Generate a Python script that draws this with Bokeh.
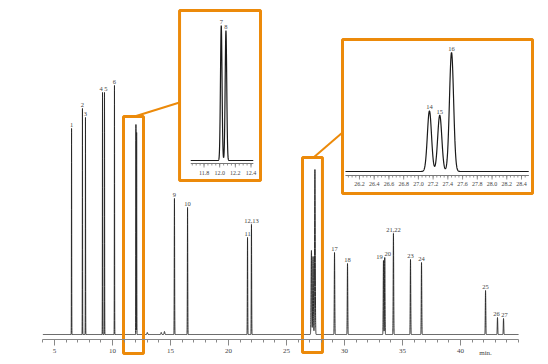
import numpy as np
from bokeh.plotting import figure
from bokeh.models import Range1d, LinearAxis, FixedTicker, ColumnDataSource, Label
from bokeh.core.properties import value
from bokeh.embed import file_html
from bokeh.resources import INLINE

# ---------------- data ----------------
peak_names = ["1", "2", "3", "4", "5", "6", "7", "8", "9", "10", "11", "12,13",
              "14", "15", "16", "17", "18", "19", "20", "21,22", "23", "24",
              "25", "26", "27"]
peak_times = [6.47, 7.41, 7.67, 9.14, 9.31, 10.17, 12.02, 12.08, 15.34, 16.47,
              21.64, 21.98, 27.15, 27.29, 27.45, 29.14, 30.26, 33.36, 33.47,
              34.22, 35.69, 36.64, 42.16, 43.19, 43.71]
peak_heights = [206, 226, 217, 242, 242, 249, 210, 202, 136, 127, 97, 110,
                84, 78, 165, 82, 71, 74, 77, 101, 75, 72, 44, 17, 16]
peak_widths = [0.01, 0.01, 0.01, 0.01, 0.01, 0.01, 0.01, 0.01, 0.015, 0.015,
               0.015, 0.015, 0.028, 0.028, 0.028, 0.02, 0.02, 0.02, 0.02,
               0.02, 0.02, 0.02, 0.02, 0.02, 0.02]
minor_times = [13.0, 14.2, 14.48]
minor_heights = [2, 2, 3]
minor_widths = [0.03, 0.03, 0.03]

main_ticks = [5, 10, 15, 20, 25, 30, 35, 40]
main_minor_ticks = list(range(4, 46))
inset1_ticks = [11.8, 12.0, 12.2, 12.4]
inset1_labels = ["11.8", "12.0", "12.2", "12.4"]
inset1_minor = [round(11.65 + 0.05 * i, 2) for i in range(16)]
inset2_ticks = [26.2, 26.4, 26.6, 26.8, 27.0, 27.2, 27.4, 27.6, 27.8, 28.0, 28.2, 28.4]
inset2_labels = ["26.2", "26.4", "26.6", "26.8", "27.0", "27.2", "27.4", "27.6",
                 "27.8", "28.0", "28.2", "28.4"]
inset2_minor = [round(26.05 + 0.05 * i, 2) for i in range(49)]

# ---------------- styles / layout ----------------
ORANGE = "#EC8A0A"
TXT = "#444444"
FONT = value("Liberation Serif")


def signal(t):
    t = np.asarray(t, dtype=float)
    s = np.zeros_like(t)
    for t0, h, w in zip(peak_times + minor_times, peak_heights + minor_heights,
                        peak_widths + minor_widths):
        s += h * np.exp(-((t - t0) ** 2) / (2 * w * w))
    return s


p = figure(width=540, height=356, output_backend="svg", toolbar_location=None,
           x_range=Range1d(1.034, 46.897), y_range=Range1d(-22, 326),
           x_axis_type=None, y_axis_type=None,
           min_border=0, min_border_left=8, min_border_right=0,
           min_border_top=8, min_border_bottom=0)
p.outline_line_color = None
p.background_fill_color = "white"

# main trace
tm = np.arange(4.0, 45.0, 0.002)
p.line(tm, signal(tm), line_color="#2a2a2a", line_width=1)

# main axis
ax = LinearAxis(fixed_location=-5, bounds=(4, 45),
                ticker=FixedTicker(ticks=main_ticks, minor_ticks=main_minor_ticks))
ax.axis_line_color = "#888888"
ax.major_tick_line_color = "#888888"
ax.minor_tick_line_color = "#888888"
ax.major_tick_in = 0
ax.major_tick_out = 6
ax.minor_tick_in = 0
ax.minor_tick_out = 3
ax.major_label_standoff = 3
ax.major_label_text_font = "Liberation Serif"
ax.major_label_text_font_size = "7px"
ax.major_label_text_color = TXT
p.add_layout(ax, "below")
p.add_layout(Label(x=42.16, y=-18, text="min.", text_align="center",
                   text_baseline="middle", text_font="Liberation Serif",
                   text_font_size="7px", text_color=TXT))

# main peak labels
show = [n not in ("7", "8", "14", "15", "16") for n in peak_names]
xoff = {"4": -1.5, "5": 1.5, "19": -4, "20": 3, "26": -1, "27": 1}
lab = ColumnDataSource(dict(
    x=[t for t, s in zip(peak_times, show) if s],
    y=[h + 1.5 for h, s in zip(peak_heights, show) if s],
    text=[n for n, s in zip(peak_names, show) if s],
    xo=[xoff.get(n, 0) for n, s in zip(peak_names, show) if s],
))
p.text(x="x", y="y", text="text", x_offset="xo", source=lab, text_align="center",
       text_baseline="bottom", text_font=FONT, text_font_size="6.5px", text_color=TXT)

# highlight boxes and connectors
p.quad(left=[10.95, 26.38], right=[12.67, 28.1], top=[218, 177], bottom=[-19, -18],
       fill_color=None, line_color=ORANGE, line_width=3)
p.segment(x0=[11.9, 27.33], y0=[218, 177], x1=[15.78, 29.83], y1=[232, 202],
          line_color=ORANGE, line_width=2)
p.quad(left=[15.78, 29.83], right=[22.76, 46.21], top=[324, 295], bottom=[154, 141],
       fill_color="white", line_color=ORANGE, line_width=3)

# ---------------- inset 1 ----------------
s1 = p.subplot(x_source=Range1d(11.8, 12.4), x_target=Range1d(17.89, 21.94),
               y_source=Range1d(0, 210), y_target=Range1d(174, 309))
a1 = p.subplot(x_source=Range1d(11.8, 12.4), x_target=Range1d(17.89, 21.94),
               y_source=Range1d(0, 1), y_target=Range1d(0, 1))
t1 = np.arange(11.63, 12.43, 0.001)
s1.line(t1, signal(t1), line_color="#1a1a1a", line_width=1.2)
a1.segment(x0=[11.63], x1=[12.43], y0=[171], y1=[171], line_color="#777777", line_width=1)
a1.segment(x0=inset1_minor, x1=inset1_minor, y0=[171] * len(inset1_minor),
           y1=[169] * len(inset1_minor), line_color="#777777", line_width=0.8)
a1.segment(x0=inset1_ticks, x1=inset1_ticks, y0=[171] * 4, y1=[167] * 4,
           line_color="#777777", line_width=0.8)
a1.text(x=inset1_ticks, y=[162] * 4, text=inset1_labels, text_align="center",
        text_baseline="middle", text_font=FONT, text_font_size="6px", text_color=TXT)
s1.text(x=[peak_times[6], peak_times[7]], y=[peak_heights[6] + 2, peak_heights[7] + 2],
        text=["7", "8"], text_align="center", text_baseline="bottom",
        text_font=FONT, text_font_size="6.5px", text_color=TXT)

# ---------------- inset 2 ----------------
s2 = p.subplot(x_source=Range1d(26.2, 28.4), x_target=Range1d(31.29, 45.26),
               y_source=Range1d(0, 165), y_target=Range1d(163, 282))
a2 = p.subplot(x_source=Range1d(26.2, 28.4), x_target=Range1d(31.29, 45.26),
               y_source=Range1d(0, 1), y_target=Range1d(0, 1))
t2 = np.arange(26.01, 28.5, 0.002)
s2.line(t2, signal(t2), line_color="#1a1a1a", line_width=1.2)
a2.segment(x0=[26.01], x1=[28.5], y0=[159], y1=[159], line_color="#777777", line_width=1)
a2.segment(x0=inset2_minor, x1=inset2_minor, y0=[159] * len(inset2_minor),
           y1=[157] * len(inset2_minor), line_color="#777777", line_width=0.8)
a2.segment(x0=inset2_ticks, x1=inset2_ticks, y0=[159] * len(inset2_ticks),
           y1=[155] * len(inset2_ticks), line_color="#777777", line_width=0.8)
a2.text(x=inset2_ticks, y=[151] * len(inset2_ticks), text=inset2_labels,
        text_align="center", text_baseline="middle", text_font=FONT,
        text_font_size="6px", text_color=TXT)
s2.text(x=peak_times[12:15], y=[h + 2 for h in peak_heights[12:15]],
        text=peak_names[12:15], text_align="center", text_baseline="bottom",
        text_font=FONT, text_font_size="6.5px", text_color=TXT)

open("out.html", "w").write(file_html(p, INLINE))
